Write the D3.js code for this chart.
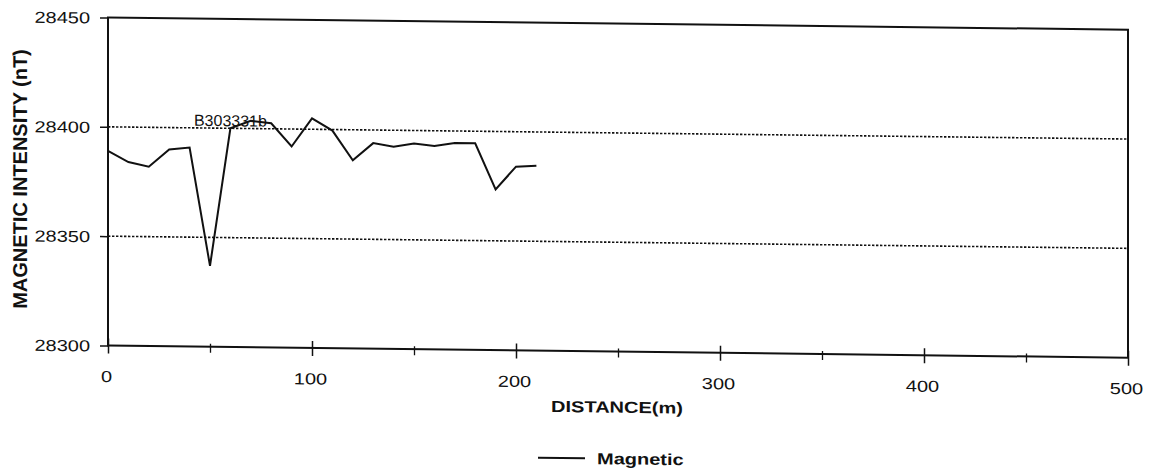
<!DOCTYPE html>
<html>
<head>
<meta charset="utf-8">
<script src="https://cdn.jsdelivr.net/npm/d3@7"></script>
<style>
  html, body { margin: 0; padding: 0; background: #fff; }
  svg { display: block; }
  text { font-family: Arial, "Liberation Sans", sans-serif; fill: #111; }
</style>
</head>
<body>
<svg id="chart" width="1149" height="470"></svg>
<script>
// Survey profile: total magnetic intensity along the traverse
const distance = [0, 10, 20, 30, 40, 50, 60, 70, 80, 90, 100, 110, 120, 130, 140, 150, 160, 170, 180, 190, 200, 210];
const magnetic = [28389, 28384, 28382, 28390, 28391, 28337, 28400, 28403.5, 28402.5, 28392, 28405, 28399.5, 28386, 28394, 28392.5, 28394, 28393, 28394.5, 28394.5, 28373.5, 28384, 28384.5];
const xTicks = [0, 100, 200, 300, 400, 500];
const xMinorTicks = [50, 150, 250, 350, 450];
const yTicks = [28300, 28350, 28400, 28450];
const stationLabel = "B303331b";
const stationAt = 60;
const seriesName = "Magnetic";
const xTitle = "DISTANCE(m)";
const yTitle = "MAGNETIC INTENSITY (nT)";

const plotL = 108, plotR = 1128, plotT = 17.5, plotB = 345.5;
const textSquash = 0.8;

const svg = d3.select("#chart");
svg.append("rect").attr("width", 1149).attr("height", 470).attr("fill", "#fff");

// the printed sheet sits slightly askew
const g = svg.append("g")
  .attr("transform", `translate(${plotL},0) skewY(0.685) translate(${-plotL},0)`);

const x = d3.scaleLinear().domain([0, 500]).range([plotL, plotR]);
const y = d3.scaleLinear().domain([28300, 28450]).range([plotB, plotT]);

// dotted gridlines at the inner major ticks
g.append("g").selectAll("line")
  .data(yTicks.filter(v => v > 28300 && v < 28450))
  .join("line")
  .attr("x1", plotL).attr("x2", plotR)
  .attr("y1", d => y(d)).attr("y2", d => y(d))
  .attr("stroke", "#111").attr("stroke-width", 1.6)
  .attr("stroke-dasharray", "2.4,1.6");

// plot frame
g.append("rect")
  .attr("x", plotL).attr("y", plotT)
  .attr("width", plotR - plotL).attr("height", plotB - plotT)
  .attr("fill", "none").attr("stroke", "#111").attr("stroke-width", 2);

// y axis
const yAxis = g.append("g")
  .attr("transform", `translate(${plotL},0)`)
  .call(d3.axisLeft(y).tickValues(yTicks).tickSize(8).tickFormat(d3.format("d")));
yAxis.select(".domain").remove();
yAxis.selectAll(".tick line").attr("stroke", "#111").attr("stroke-width", 1.5);
yAxis.selectAll(".tick text")
  .attr("x", -18).attr("dy", null)
  .attr("y", 5.7 / textSquash)
  .attr("transform", `scale(1,${textSquash})`)
  .style("font-size", "20px").style("fill", "#111");

// x axis, major ticks
const xAxis = g.append("g")
  .attr("transform", `translate(0,${plotB})`)
  .call(d3.axisBottom(x).tickValues(xTicks).tickSize(8).tickFormat(d3.format("d")));
xAxis.select(".domain").remove();
xAxis.selectAll(".tick line").attr("y1", -7).attr("stroke", "#111").attr("stroke-width", 1.5);
xAxis.selectAll(".tick text")
  .attr("dy", null).attr("x", -2)
  .attr("y", 36.5 / textSquash)
  .attr("transform", `scale(1,${textSquash})`)
  .style("font-size", "20px").style("fill", "#111");

// x axis, minor ticks
const xMinor = g.append("g")
  .attr("transform", `translate(0,${plotB})`)
  .call(d3.axisBottom(x).tickValues(xMinorTicks).tickSize(6).tickFormat(""));
xMinor.select(".domain").remove();
xMinor.selectAll(".tick line").attr("y1", -3).attr("stroke", "#111").attr("stroke-width", 1.3);

// magnetic profile
const line = d3.line().x((d, i) => x(distance[i])).y(d => y(d));
g.append("path")
  .datum(magnetic)
  .attr("d", line)
  .attr("fill", "none")
  .attr("stroke", "#111")
  .attr("stroke-width", 2)
  .attr("stroke-linejoin", "miter");

// station label at its reading
const si = distance.indexOf(stationAt);
g.append("text")
  .attr("x", x(distance[si]))
  .attr("y", y(magnetic[si]) - 2)
  .attr("text-anchor", "middle")
  .style("font-size", "16px")
  .text(stationLabel);

// axis titles
g.append("text")
  .attr("transform", `translate(617,406.6) scale(1,${textSquash})`)
  .attr("text-anchor", "middle")
  .style("font-size", "20px").style("font-weight", "bold")
  .text(xTitle);

g.append("text")
  .attr("transform", "translate(27,180) rotate(-90)")
  .attr("text-anchor", "middle")
  .style("font-size", "20px").style("font-weight", "bold")
  .text(yTitle);

// legend
g.append("line")
  .attr("x1", 538).attr("x2", 585)
  .attr("y1", 452.6).attr("y2", 452.6)
  .attr("stroke", "#111").attr("stroke-width", 2);
g.append("text")
  .attr("transform", `translate(597,458.3) scale(1,${textSquash})`)
  .style("font-size", "20px").style("font-weight", "bold")
  .text(seriesName);
</script>
</body>
</html>
